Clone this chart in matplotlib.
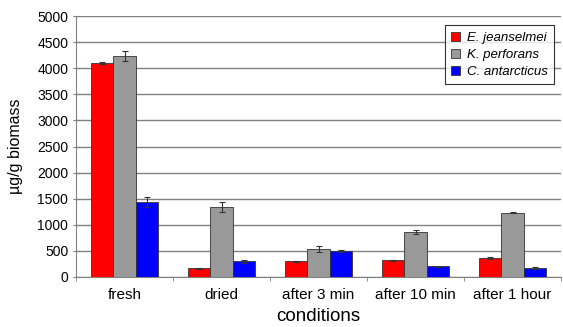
"""Biomass per condition, three species"""

import numpy as np
import matplotlib.pyplot as plt
from matplotlib.ticker import FixedLocator

plt.rcParams['font.family'] = ['Liberation Sans', 'DejaVu Sans']

conditions = ['fresh', 'dried', 'after 3 min', 'after 10 min', 'after 1 hour']
species = ['E. jeanselmei', 'K. perforans', 'C. antarcticus']
jeanselmei = [4100, 170, 300, 320, 365]
jeanselmei_err = [20, 10, 10, 10, 20]
perforans = [4230, 1345, 540, 855, 1230]
perforans_err = [95, 100, 60, 40, 10]
antarcticus = [1435, 300, 495, 205, 170]
antarcticus_err = [95, 30, 25, 15, 12]
colors = ['#ff0000', '#999999', '#0000ff']


def main():
    fig = plt.figure(figsize=(5.63, 3.27), dpi=100)
    ax = fig.add_axes([76 / 563, 1 - 277 / 327, 485 / 563, 261 / 327])

    x = np.arange(len(conditions))
    w = 0.227
    series = [(jeanselmei, jeanselmei_err), (perforans, perforans_err),
              (antarcticus, antarcticus_err)]
    for i, (vals, errs) in enumerate(series):
        ax.bar(x + (i - 1) * w, vals, w, yerr=errs, color=colors[i],
               edgecolor='#333333', linewidth=0.6, label=species[i],
               error_kw=dict(ecolor='#333333', elinewidth=0.8, capsize=2, capthick=0.8),
               zorder=3)

    ax.set_xlim(-0.5, len(conditions) - 0.5)
    ax.set_ylim(0, 5000)
    ax.set_yticks(np.arange(0, 5001, 500))
    ax.set_xticks(x)
    ax.set_xticklabels(conditions, fontsize=11)
    ax.xaxis.set_minor_locator(FixedLocator(np.arange(-0.5, len(conditions), 1)))
    ax.tick_params(axis='x', which='major', length=0, pad=8)
    ax.tick_params(axis='x', which='minor', length=3, color='#808080')
    ax.tick_params(axis='y', direction='inout', length=5, color='#808080',
                   labelsize=10, pad=3)

    ax.grid(axis='y', color='#808080', linewidth=1, zorder=0)
    ax.set_axisbelow(True)
    for side in ['top', 'right']:
        ax.spines[side].set_visible(False)
    for side in ['left', 'bottom']:
        ax.spines[side].set_color('#808080')

    ax.set_ylabel('µg/g biomass', fontsize=11.5, labelpad=10)
    ax.set_xlabel('conditions', fontsize=13.5, labelpad=4)

    leg = ax.legend(loc='upper right', bbox_to_anchor=(1.0, 0.99),
                    prop={'style': 'italic', 'size': 9.5}, frameon=True, fancybox=False,
                    edgecolor='black', handlelength=0.7, handleheight=0.7,
                    handletextpad=0.5, borderpad=0.5, labelspacing=0.35)
    leg.get_frame().set_linewidth(0.8)

    plt.savefig('out.png', dpi=100)
    plt.close()


if __name__ == "__main__":
    main()
